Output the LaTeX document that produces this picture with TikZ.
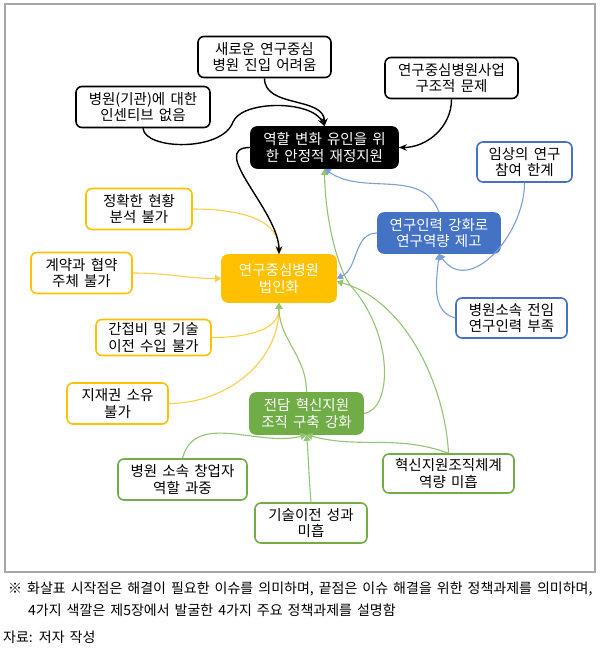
\documentclass[tikz,border=0pt]{standalone}
\usepackage{fontspec}
\newfontfamily\kr[WordSpace=1.6]{Noto Sans CJK KR}
\usetikzlibrary{arrows.meta}
\definecolor{gold}{HTML}{FFC000}
\definecolor{goldline}{HTML}{FFCD45}
\definecolor{leaf}{HTML}{70AD47}
\definecolor{leafline}{HTML}{92C570}
\definecolor{sea}{HTML}{4472C4}
\definecolor{sealine}{HTML}{7C9FD9}
\definecolor{framegray}{HTML}{A6A6A6}

\begin{document}
\begin{tikzpicture}[x=1pt,y=1pt,
  box/.style={rounded corners=6pt, align=center, inner sep=2pt, minimum height=41pt,
    line width=1.6pt, font=\kr\fontsize{14.5}{16.5}\selectfont},
  issue/.style={box, draw=#1, fill=white, text=black},
  task/.style={box, draw=#1, fill=#1, text=white},
  link/.style={draw=#1, line width=1.1pt, -{Triangle[length=6pt,width=7pt]}},
  push/.style={draw=black, line width=1.4pt, -{Stealth[length=8pt,width=6.5pt]}},
  note/.style={anchor=west, inner sep=0pt, font=\kr\fontsize{14}{16}\selectfont}]
\useasboundingbox (0,0) rectangle (600,-655);
\draw[framegray, line width=1.2pt] (5,-4) rectangle (595,-572);

% policy tasks
\node[task=black, minimum width=147pt] (n4) at (324.5,-147.5) {역할 변화 유인을 위\\한 안정적 재정지원};
\node[task=sea, minimum width=122pt, minimum height=40pt] (n6) at (439,-233) {연구인력 강화로\\연구역량 제고};
\node[task=gold, minimum width=114pt, minimum height=47pt] (n10) at (279,-278.5) {연구중심병원\\법인화};
\node[task=leaf, minimum width=113pt] (n13) at (306.5,-413.5) {전담 혁신지원\\조직 구축 강화};

% issues
\node[issue=black, minimum width=133pt] (n1) at (264.5,-57) {새로운 연구중심\\병원 진입 어려움};
\node[issue=black, minimum width=134pt] (n2) at (143,-107) {병원(기관)에 대한\\인센티브 없음};
\node[issue=black, minimum width=133pt] (n3) at (451.5,-78) {연구중심병원사업\\구조적 문제};
\node[issue=sea, minimum width=95pt, minimum height=40pt] (n5) at (524.5,-162) {임상의 연구\\참여 한계};
\node[issue=sea, minimum width=111pt, minimum height=40pt] (n7) at (511.5,-318) {병원소속 전임\\연구인력 부족};
\node[issue=gold, minimum width=106pt] (n8) at (139,-209) {정확한 현황\\분석 불가};
\node[issue=gold, minimum width=101pt] (n9) at (81.5,-273) {계약과 협약\\주체 불가};
\node[issue=gold, minimum width=115pt, minimum height=36pt, inner ysep=1pt] (n11) at (153.5,-337.5) {간접비 및 기술\\이전 수입 불가};
\node[issue=gold, minimum width=101pt] (n12) at (117.5,-403.5) {지재권 소유\\불가};
\node[issue=leaf, minimum width=129pt] (n14) at (182.5,-479.5) {병원 소속 창업자\\역할 과중};
\node[issue=leaf, minimum width=112pt, minimum height=40pt] (n15) at (311,-523) {기술이전 성과\\미흡};
\node[issue=leaf, minimum width=131pt, minimum height=39pt] (n16) at (448.5,-473.5) {혁신지원조직체계\\역량 미흡};

% yellow links
\draw[link=goldline] (n8.east) to[out=0,in=90] (n10.north);
\draw[link=goldline] (n9.east) to[out=0,in=180] (n10.west);
\draw[link=goldline] (n11.east) to[out=0,in=-90] (n10.south);
\draw[link=goldline] (n12.east) to[out=0,in=-90] (n10.south);

% green links
\draw[link=leafline] (n13.north) to[out=90,in=-90] (n10.south);
\draw[link=leafline] (n13.east) .. controls (392,-410) and (395,-335) .. (350,-285)
  .. controls (336,-265) and (325,-215) .. (n4.south);
\draw[link=leafline] (n16.north) .. controls (445,-385) and (405,-300) .. ([yshift=-3pt]n10.east);
\draw[link=leafline] (n14.north) to[out=75,in=195] (n13.south);
\draw[link=leafline] (n15.north) to[out=95,in=-85] (n13.south);
\draw[link=leafline] (n16.north) to[out=160,in=-15] (n13.south);

% blue links
\draw[link=sealine] (n6.north) to[out=110,in=-35] (n4.south);
\draw[link=sealine] (n6.west) to[out=180,in=25] (n10.east);
\draw[link=sealine] (n5.south) to[out=-90,in=-55,looseness=1.2] (n6.south);
\draw[link=sealine] (n7.west) to[out=165,in=-95] (n6.south);

% black links
\draw[push] (n1.south) to[out=-90,in=90] (n4.north);
\draw[push] (n2.south) .. controls (145,-150) and (222,-152) .. (233,-122)
  .. controls (242,-100) and (312,-100) .. (n4.north);
\draw[push] (n3.south) to[out=-90,in=0] (n4.east);
\draw[push] (n4.west) to[out=180,in=90] (n10.north);

% notes
\node[note] (c1) at (8,-589) {※ 화살표 시작점은 해결이 필요한 이슈를 의미하며, 끝점은 이슈 해결을 위한 정책과제를 의미하며,};
\node[note] (c2) at (28,-610) {4가지 색깔은 제5장에서 발굴한 4가지 주요 정책과제를 설명함};
\node[note] (c3) at (3,-637) {자료: 저자 작성};
\end{tikzpicture}
\end{document}
